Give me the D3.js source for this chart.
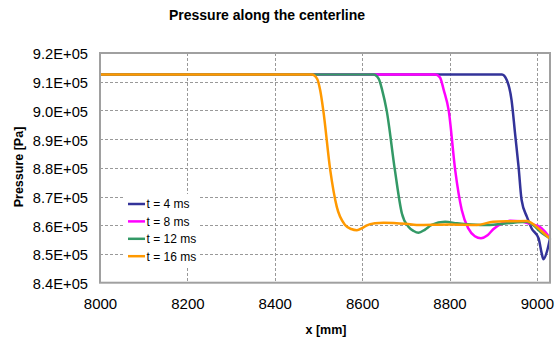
<!DOCTYPE html>
<html>
<head>
<meta charset="utf-8">
<script src="https://cdn.jsdelivr.net/npm/d3@7"></script>
<style>
  html, body { margin: 0; padding: 0; background: #fff; }
  svg { display: block; font-family: "Liberation Sans", Arial, sans-serif; }
</style>
</head>
<body>
<svg id="chart" width="558" height="340"></svg>
<script>
// ---- data (pressure in Pa, x in mm) ----
const seriesNames = ["t = 4 ms", "t = 8 ms", "t = 12 ms", "t = 16 ms"];
const seriesColors = ["#333399", "#FF00FF", "#339966", "#FF9900"];

const x4 = [8000, 8920, 8931, 8942, 8950, 8958, 8965, 8977, 8988, 9004, 9011, 9015, 9024, 9030];
const p4 = [9.125, 9.125, 9.106, 9.036, 8.920, 8.804, 8.688, 8.630, 8.589, 8.554, 8.502, 8.482, 8.514, 8.554];

const x8 = [8000, 8767, 8778, 8787, 8798, 8813, 8828, 8843, 8858, 8872, 8887, 8900, 8920, 8939, 8962, 8985, 9004, 9019, 9030];
const p8 = [9.125, 9.125, 9.115, 9.070, 9.001, 8.792, 8.653, 8.589, 8.562, 8.555, 8.565, 8.586, 8.607, 8.616, 8.614, 8.604, 8.597, 8.577, 8.554];

const x12 = [8000, 8626, 8638, 8646, 8656, 8675, 8691, 8706, 8718, 8729, 8744, 8759, 8790, 8817, 8850, 8885, 8946, 8977, 8992, 9008, 9030];
const p12 = [9.125, 9.125, 9.110, 9.070, 9.001, 8.792, 8.641, 8.595, 8.580, 8.574, 8.585, 8.601, 8.612, 8.607, 8.603, 8.601, 8.609, 8.612, 8.600, 8.577, 8.554];

const x16 = [8000, 8485, 8497, 8504, 8511, 8527, 8542, 8561, 8575, 8588, 8600, 8611, 8630, 8649, 8700, 8725, 8801, 8862, 8900, 8940, 8977, 8995, 9010, 9030];
const p16 = [9.125, 9.125, 9.110, 9.070, 9.001, 8.792, 8.664, 8.601, 8.587, 8.583, 8.590, 8.600, 8.607, 8.609, 8.605, 8.601, 8.603, 8.601, 8.612, 8.614, 8.615, 8.600, 8.580, 8.554];

const xTicks = [8000, 8200, 8400, 8600, 8800, 9000];
const yTicks = [8.4e5, 8.5e5, 8.6e5, 8.7e5, 8.8e5, 8.9e5, 9.0e5, 9.1e5, 9.2e5];

const seriesX = [x4, x8, x12, x16];
const seriesP = [p4, p8, p12, p16];

// ---- layout ----
const svg = d3.select("#chart");
const L = 100, R = 550, T = 53, B = 282.7;
const x = d3.scaleLinear().domain([8000, 9030]).range([L, R]);
const y = d3.scaleLinear().domain([8.4e5, 9.2e5]).range([B, T]);

svg.append("rect").attr("width", 558).attr("height", 340).attr("fill", "#fff");

// grid
const grid = svg.append("g").attr("stroke", "#999").attr("stroke-width", 1).attr("stroke-dasharray", "3,2");
grid.selectAll("line.h").data(yTicks.slice(1, -1)).enter().append("line")
  .attr("x1", L).attr("x2", R)
  .attr("y1", d => Math.round(y(d)) + 0.5).attr("y2", d => Math.round(y(d)) + 0.5);
grid.selectAll("line.v").data(xTicks.slice(1)).enter().append("line")
  .attr("y1", T).attr("y2", B)
  .attr("x1", d => Math.round(x(d)) + 0.5).attr("x2", d => Math.round(x(d)) + 0.5);

// axes labels via d3 axes (no domain/ticks lines)
const yAxis = svg.append("g").attr("transform", `translate(${L - 12},0)`)
  .call(d3.axisLeft(y).tickValues(yTicks).tickSize(0).tickPadding(0)
    .tickFormat(d => (d / 1e5).toFixed(1) + "E+05"));
yAxis.select(".domain").remove();
yAxis.selectAll("text").attr("font-size", "14.7px").attr("fill", "#000")
  .attr("font-family", "Liberation Sans, Arial, sans-serif").attr("dy", "0.4em");

const xAxis = svg.append("g").attr("transform", `translate(0,${B})`)
  .call(d3.axisBottom(x).tickValues(xTicks).tickSize(0).tickPadding(0).tickFormat(d3.format("d")));
xAxis.select(".domain").remove();
xAxis.selectAll("text").attr("font-size", "15px").attr("fill", "#000")
  .attr("font-family", "Liberation Sans, Arial, sans-serif").attr("dy", "1.75em");

// lines
const line = d3.line().curve(d3.curveMonotoneX).x(d => x(d[0])).y(d => y(d[1] * 1e5));
seriesX.forEach((xs, i) => {
  const pts = xs.map((v, j) => [v, seriesP[i][j]]);
  svg.append("path").datum(pts).attr("d", line)
    .attr("fill", "none").attr("stroke", seriesColors[i]).attr("stroke-width", 2.5)
    .attr("stroke-linejoin", "round");
});

// frame
svg.append("rect").attr("x", L).attr("y", T).attr("width", R - L).attr("height", B - T)
  .attr("fill", "none").attr("stroke", "#a0a0a0").attr("stroke-width", 2);

// legend
const lg = svg.append("g");
lg.append("rect").attr("x", 124).attr("y", 194).attr("width", 75).attr("height", 72).attr("fill", "#fff");
seriesNames.forEach((name, i) => {
  const cy = 204 + i * 17.4;
  lg.append("line").attr("x1", 128).attr("x2", 145).attr("y1", cy).attr("y2", cy)
    .attr("stroke", seriesColors[i]).attr("stroke-width", 2.5);
  lg.append("text").attr("x", 146.5).attr("y", cy).attr("dy", "0.36em")
    .attr("font-size", "12px").text(name);
});

// titles
svg.append("text").attr("x", 267).attr("y", 20).attr("text-anchor", "middle")
  .attr("font-size", "14px").attr("font-weight", "bold").text("Pressure along the centerline");
svg.append("text").attr("x", 326).attr("y", 334).attr("text-anchor", "middle")
  .attr("font-size", "12.5px").attr("font-weight", "bold").text("x [mm]");
svg.append("text").attr("transform", "translate(23,167) rotate(-90)").attr("text-anchor", "middle")
  .attr("font-size", "12.5px").attr("font-weight", "bold").text("Pressure [Pa]");
</script>
</body>
</html>
